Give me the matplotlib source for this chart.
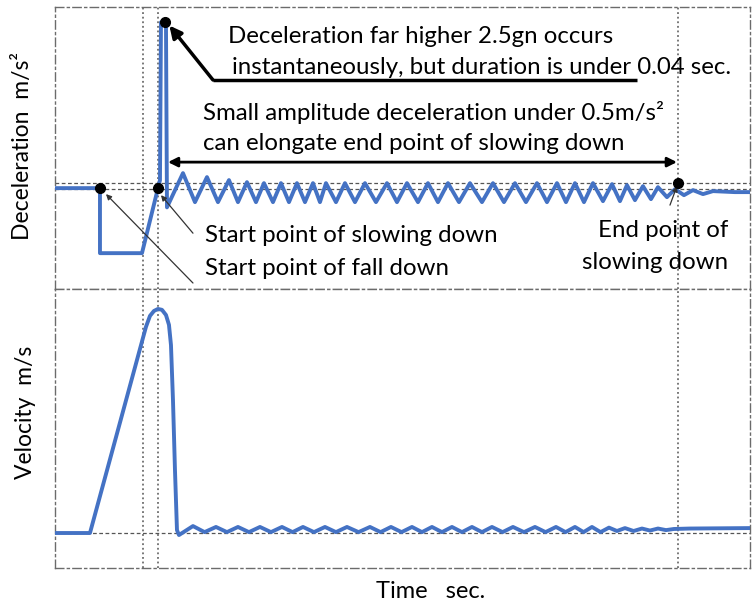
import matplotlib.pyplot as plt

# === data (time in s, deceleration in m/s^2, velocity in m/s) ===
# deceleration: flat, free fall, impact spike
dec_t = [0.000, 0.225, 0.225, 0.435, 0.515, 0.525, 0.530, 0.555, 0.560]
dec_a = [0.00, 0.00, -9.80, -9.80, 0.00, 1.20, 25.00, 25.00, -2.90]

# deceleration: small oscillation after the spike (alternating peaks / troughs)
osc_t = [0.640, 0.700, 0.760, 0.815, 0.870, 0.915, 0.960, 1.005, 1.045, 1.090,
         1.130, 1.170, 1.210, 1.250, 1.290, 1.325, 1.355, 1.405, 1.450, 1.500,
         1.550, 1.605, 1.660, 1.710, 1.760, 1.815, 1.865, 1.915, 1.965, 2.020,
         2.075, 2.135, 2.190, 2.245, 2.300, 2.355, 2.410, 2.460, 2.510, 2.555,
         2.600, 2.645, 2.690, 2.740, 2.785, 2.825, 2.860, 2.900, 2.940, 2.980,
         3.015, 3.060, 3.100, 3.145, 3.190, 3.240, 3.290, 3.400, 3.475]
osc_a = [2.26, -2.11, 1.66, -2.11, 1.21, -2.11, 0.90, -2.11, 0.75, -2.11,
         0.75, -2.11, 0.75, -2.11, 0.75, -2.11, 0.75, -2.11, 0.75, -2.11,
         0.75, -2.11, 0.75, -2.11, 0.75, -2.11, 0.75, -2.11, 0.75, -2.11,
         0.75, -2.11, 0.75, -2.11, 0.75, -2.11, 0.75, -2.11, 0.75, -2.11,
         0.75, -2.11, 0.75, -1.96, 0.60, -1.96, 0.45, -1.81, 0.30, -1.66,
         0.15, -1.36, -0.15, -1.06, -0.30, -0.90, -0.45, -0.60, -0.60]

# velocity: free fall ramp and stop
vel_t = [0.000, 0.175, 0.455, 0.475, 0.495, 0.515, 0.535, 0.555, 0.570,
         0.580, 0.590, 0.600, 0.610, 0.620]
vel_v = [0.000, 0.000, 0.920, 0.969, 0.991, 1.000, 0.996, 0.973, 0.929,
         0.839, 0.594, 0.281, 0.013, -0.009]

# velocity: ripple after the stop
vosc_t = [0.690, 0.748, 0.805, 0.860, 0.915, 0.970, 1.025, 1.080, 1.135, 1.188,
          1.240, 1.295, 1.350, 1.405, 1.460, 1.518, 1.575, 1.628, 1.680, 1.733,
          1.785, 1.835, 1.885, 1.935, 1.985, 2.035, 2.085, 2.135, 2.185, 2.238,
          2.290, 2.345, 2.400, 2.453, 2.505, 2.553, 2.600, 2.643, 2.685, 2.728,
          2.770, 2.810, 2.850, 2.893, 2.935, 2.975, 3.015, 3.055, 3.095, 3.175, 3.475]
vosc_v = [0.031, 0.004, 0.027, 0.004, 0.027, 0.004, 0.027, 0.004, 0.027, 0.004,
          0.027, 0.004, 0.027, 0.004, 0.027, 0.004, 0.027, 0.004, 0.027, 0.004,
          0.027, 0.004, 0.027, 0.004, 0.027, 0.004, 0.027, 0.004, 0.027, 0.004,
          0.027, 0.004, 0.027, 0.004, 0.027, 0.004, 0.027, 0.004, 0.027, 0.004,
          0.024, 0.009, 0.022, 0.009, 0.020, 0.011, 0.020, 0.013, 0.018, 0.020, 0.022]

# key instants
t_fall, t_slow, t_peak, t_end = 0.225, 0.515, 0.550, 3.115
t_guides = [0.44, 0.515, 3.115]
band = [0.75, -0.15]

BLUE = '#4472C4'
FRAME = '#6b6b6b'
GUIDE = '#555555'

plt.rcParams['font.family'] = ['Lato', 'DejaVu Sans']

fig = plt.figure(figsize=(7.52, 6.07), dpi=100)
ax1 = fig.add_axes([0.0731, 0.5239, 0.9242, 0.4646])
ax2 = fig.add_axes([0.0731, 0.0643, 0.9242, 0.4596])

for ax in (ax1, ax2):
    ax.set_xlim(0, 3.475)
    ax.set_xticks([])
    ax.set_yticks([])
    for sp in ax.spines.values():
        sp.set_linestyle((0, (6, 2.5, 1.5, 2.5)))
        sp.set_color(FRAME)
        sp.set_linewidth(1.0)
    for t in t_guides:
        ax.axvline(t, color=GUIDE, lw=1.1, ls=(0, (1.2, 1.8)), zorder=1)

ax1.set_ylim(-15.2, 27.3)
ax2.set_ylim(-0.156, 1.089)

for b in band:
    ax1.axhline(b, color=GUIDE, lw=0.9, ls=(0, (3, 2)), zorder=1)
ax2.axhline(0.0, color=GUIDE, lw=0.9, ls=(0, (3, 2)), zorder=1)

# === curves ===
ax1.plot(dec_t + osc_t, dec_a + osc_a, color=BLUE, lw=2.8,
         solid_joinstyle='round', solid_capstyle='round', zorder=3)
ax2.plot(vel_t + vosc_t, vel_v + vosc_v, color=BLUE, lw=2.8,
         solid_joinstyle='round', solid_capstyle='round', zorder=3)

# === marked points ===
ax1.plot([t_fall, t_slow, t_peak, t_end], [0.0, 0.0, 25.04, 0.75], 'o',
         color='black', ms=7, zorder=5)

fs = 17.3
# spike note
ax1.text(0.865, 22.8, 'Deceleration far higher 2.5gn occurs', fontsize=fs, va='center')
ax1.text(0.885, 18.25, 'instantaneously, but duration is under 0.04 sec.', fontsize=fs, va='center')
ax1.plot([2.91, 0.79], [16.3, 16.3], color='black', lw=2.5, zorder=4, solid_capstyle='butt')
ax1.annotate('', xy=(0.572, 24.5), xytext=(0.79, 16.3),
             arrowprops=dict(arrowstyle='-|>', color='black', lw=2.5, mutation_scale=18,
                             shrinkA=0, shrinkB=0))

# oscillation note
ax1.text(0.74, 11.46, 'Small amplitude deceleration under 0.5m/s²', fontsize=fs, va='center')
ax1.text(0.74, 6.79, 'can elongate end point of slowing down', fontsize=fs, va='center')
ax1.annotate('', xy=(3.11, 3.92), xytext=(0.565, 3.92),
             arrowprops=dict(arrowstyle='<|-|>', color='black', lw=2.0, mutation_scale=14,
                             shrinkA=0, shrinkB=0))

# start / end notes
ax1.text(0.75, -7.09, 'Start point of slowing down', fontsize=fs, va='center')
ax1.text(0.75, -12.07, 'Start point of fall down', fontsize=fs, va='center')
ax1.text(3.365, -6.33, 'End point of', fontsize=fs, va='center', ha='right')
ax1.text(3.365, -11.16, 'slowing down', fontsize=fs, va='center', ha='right')

thin = dict(arrowstyle='-|>', color='#333333', lw=0.9, mutation_scale=8, shrinkA=0, shrinkB=0)
ax1.annotate('', xy=(0.53, -1.06), xytext=(0.69, -6.79), arrowprops=thin)
ax1.annotate('', xy=(0.255, -0.9), xytext=(0.69, -14.3), arrowprops=thin)
ax1.annotate('', xy=(3.11, 0.3), xytext=(3.075, -2.56), arrowprops=thin)

# === axis labels ===
fig.text(23 / 752, 1 - 146 / 607, 'Deceleration  m/s²', rotation=90, fontsize=16.5,
         ha='center', va='center')
fig.text(25 / 752, 1 - 412 / 607, 'Velocity  m/s', rotation=90, fontsize=16.5,
         ha='center', va='center')
fig.text(431 / 752, 1 - 592 / 607, 'Time   sec.', fontsize=17, ha='center', va='center')

fig.savefig('out.png', dpi=100)
